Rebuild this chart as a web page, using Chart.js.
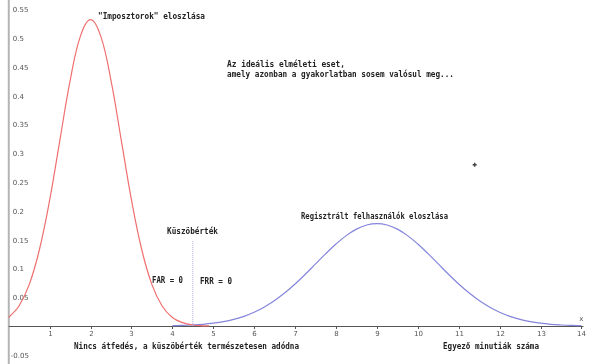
<!DOCTYPE html>
<html>
<head>
<meta charset="utf-8">
<script src="https://cdn.jsdelivr.net/npm/chart.js@4.4.1/dist/chart.umd.min.js"></script>
<style>
  html, body { margin: 0; padding: 0; background: #fff; }
  #wrap { width: 591px; height: 364px; }
</style>
</head>
<body>
<div id="wrap"><canvas id="chart" width="591" height="364"></canvas></div>
<script>
/* Impostor vs registered user score distributions */

const IMPOSTOR_X = [0, 0.25, 0.5, 0.75, 1, 1.25, 1.5, 1.75, 2, 2.25, 2.5, 2.75, 3, 3.25, 3.5, 3.75, 4, 4.25, 4.5, 4.75, 4.9];
const IMPOSTOR_Y = [0.015, 0.035, 0.072, 0.133, 0.219, 0.323, 0.426, 0.503, 0.532, 0.503, 0.426, 0.323, 0.219, 0.133, 0.072, 0.035, 0.015, 0.006, 0.002, 0.0006, 0.0003];

const USER_X = [4, 4.25, 4.5, 4.75, 5, 5.25, 5.5, 5.75, 6, 6.25, 6.5, 6.75, 7, 7.25, 7.5, 7.75, 8, 8.25, 8.5, 8.75, 9,
  9.25, 9.5, 9.75, 10, 10.25, 10.5, 10.75, 11, 11.25, 11.5, 11.75, 12, 12.25, 12.5, 12.75, 13, 13.25, 13.5, 13.75, 14];
const USER_Y = [0.0007, 0.0012, 0.002, 0.0032, 0.0051, 0.0078, 0.0117, 0.017, 0.0241, 0.0332, 0.0444, 0.0578, 0.0732, 0.0901, 0.108, 0.1258, 0.1425, 0.1571, 0.1684, 0.1755, 0.178,
  0.1755, 0.1684, 0.1571, 0.1425, 0.1258, 0.108, 0.0901, 0.0732, 0.0578, 0.0444, 0.0332, 0.0241, 0.017, 0.0117, 0.0078, 0.0051, 0.0032, 0.002, 0.0012, 0.0007];

const THRESHOLD_X = 4.5;
const THRESHOLD_TOP = 0.148;

const STRAY_POINT = { x: 11.39, y: 0.28 };

const X_TICKS = [1, 2, 3, 4, 5, 6, 7, 8, 9, 10, 11, 12, 13, 14];
const Y_TICKS = [-0.05, 0.05, 0.1, 0.15, 0.2, 0.25, 0.3, 0.35, 0.4, 0.45, 0.5, 0.55];
const Y_TICK_LABELS = ["-0.05", "0.05", "0.1", "0.15", "0.2", "0.25", "0.3", "0.35", "0.4", "0.45", "0.5", "0.55"];

const RED = "#ef6f6f";
const BLUE = "#8585dc";
const TEXT_FONT = 'bold 9px "DejaVu Sans Mono"';

/* text notes: pixel position of left edge / vertical middle, and width to fit */
const NOTES = [
  { text: "\"Imposztorok\" eloszlása", x: 98, y: 17, w: 107 },
  { text: "Az ideális elméleti eset,", x: 227, y: 65, w: 118 },
  { text: "amely azonban a gyakorlatban sosem valósul meg...", x: 227, y: 75, w: 227 },
  { text: "Küszöbérték", x: 167, y: 232, w: 51 },
  { text: "Regisztrált felhasználók eloszlása", x: 301, y: 217, w: 147 },
  { text: "FAR = 0", x: 152, y: 281, w: 31 },
  { text: "FRR = 0", x: 200, y: 282, w: 32 },
  { text: "Nincs átfedés, a küszöbérték természetesen adódna", x: 74, y: 347, w: 225 },
  { text: "Egyező minutiák száma", x: 443, y: 347, w: 96 }
];

function toPoints(xs, ys) {
  return xs.map((x, i) => ({ x: x, y: ys[i] }));
}

/* ---------- axes drawn at x = 0 / y = 0 ---------- */
const axesPlugin = {
  id: "axesAtZero",
  beforeDatasetsDraw(chart) {
    const ctx = chart.ctx;
    const xs = chart.scales.x;
    const ys = chart.scales.y;
    const x0 = xs.getPixelForValue(0);
    const y0 = ys.getPixelForValue(0);

    ctx.save();
    // y axis
    ctx.strokeStyle = "#b4b4b4";
    ctx.lineWidth = 2;
    ctx.beginPath();
    ctx.moveTo(x0, 0);
    ctx.lineTo(x0, chart.height);
    ctx.stroke();

    // x axis
    ctx.strokeStyle = "#555";
    ctx.lineWidth = 1;
    ctx.beginPath();
    ctx.moveTo(x0, Math.round(y0) + 0.5);
    ctx.lineTo(xs.getPixelForValue(14.05), Math.round(y0) + 0.5);
    ctx.stroke();

    ctx.font = '7px "DejaVu Sans"';
    ctx.fillStyle = "#555";
    ctx.textAlign = "center";
    ctx.textBaseline = "middle";
    X_TICKS.forEach((t) => {
      const px = Math.round(xs.getPixelForValue(t)) + 0.5;
      ctx.beginPath();
      ctx.moveTo(px, Math.round(y0) + 0.5);
      ctx.lineTo(px, Math.round(y0) + 3);
      ctx.stroke();
      ctx.fillText(String(t), px, y0 + 8);
    });

    ctx.textAlign = "left";
    Y_TICKS.forEach((t, i) => {
      const lbl = Y_TICK_LABELS[i];
      const px = lbl.charAt(0) === "-" ? x0 + 2 : x0 + 4;
      ctx.fillText(lbl, px, ys.getPixelForValue(t) + 1);
    });

    ctx.fillText("x", xs.getPixelForValue(13.95), y0 - 7);
    ctx.restore();
  },
  afterDatasetsDraw(chart) {
    const ctx = chart.ctx;
    ctx.save();
    ctx.font = TEXT_FONT;
    ctx.fillStyle = "#222";
    ctx.textAlign = "left";
    ctx.textBaseline = "middle";
    NOTES.forEach((n) => ctx.fillText(n.text, n.x, n.y, n.w));
    ctx.restore();
  }
};

new Chart(document.getElementById("chart"), {
  type: "scatter",
  data: {
    datasets: [
      {
        data: [{ x: THRESHOLD_X, y: 0 }, { x: THRESHOLD_X, y: THRESHOLD_TOP }],
        showLine: true,
        borderColor: "#a8a8dc",
        borderWidth: 1,
        borderDash: [1, 1],
        pointRadius: 0
      },
      {
        data: toPoints(IMPOSTOR_X, IMPOSTOR_Y),
        showLine: true,
        borderColor: RED,
        borderWidth: 1.2,
        tension: 0.4,
        pointRadius: 0
      },
      {
        data: toPoints(USER_X, USER_Y),
        showLine: true,
        borderColor: BLUE,
        borderWidth: 1.2,
        tension: 0.4,
        pointRadius: 0
      },
      {
        data: [STRAY_POINT],
        pointStyle: "cross",
        pointRadius: 2,
        borderColor: "#444",
        borderWidth: 1.5
      }
    ]
  },
  options: {
    responsive: false,
    animation: false,
    devicePixelRatio: 1,
    layout: { padding: 0 },
    plugins: { legend: { display: false }, tooltip: { enabled: false } },
    scales: {
      x: { type: "linear", min: -0.08, max: 14.1, display: false },
      y: { type: "linear", min: -0.0562, max: 0.5566, display: false }
    }
  },
  plugins: [axesPlugin]
});
</script>
</body>
</html>
